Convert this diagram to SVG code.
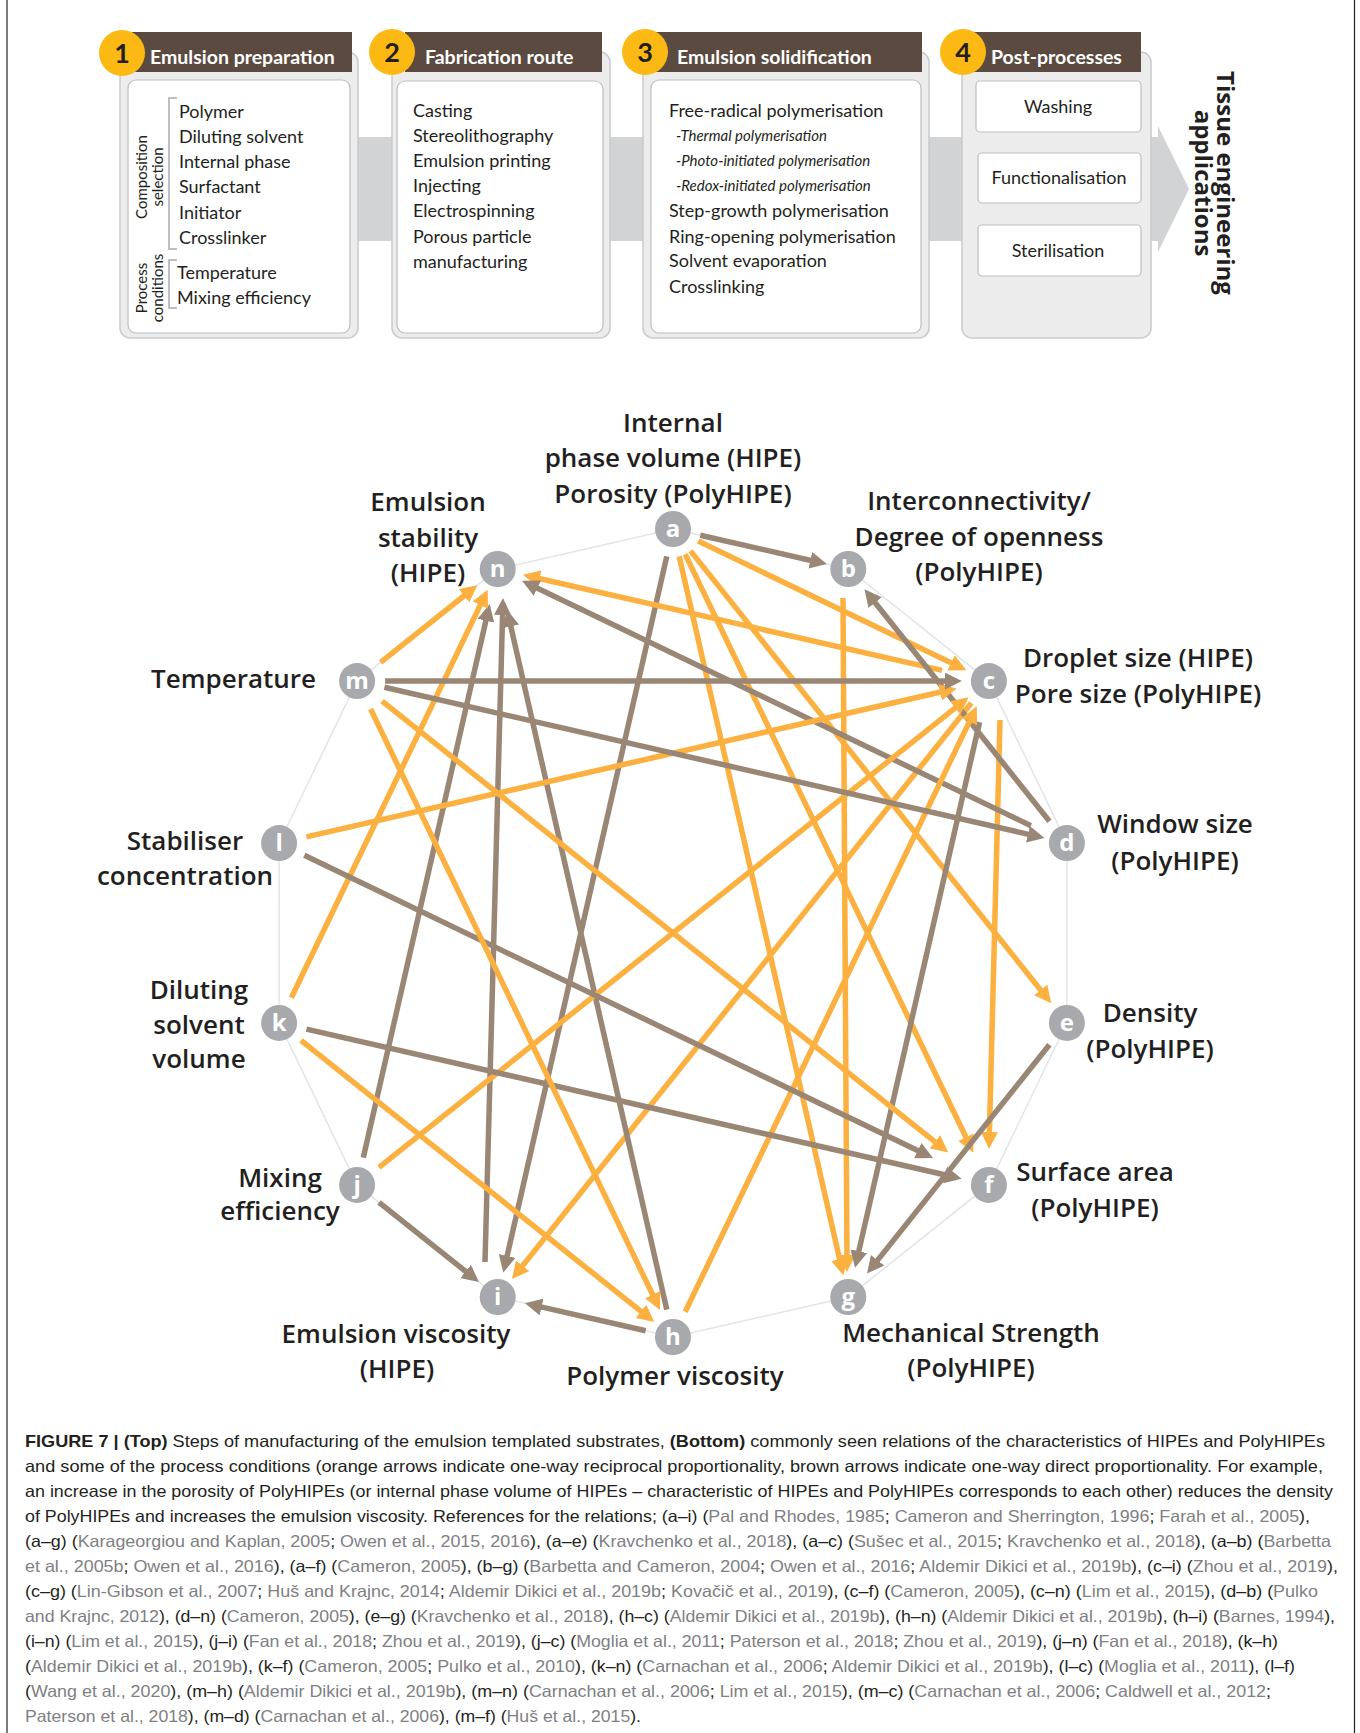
<svg xmlns="http://www.w3.org/2000/svg" width="1360" height="1733" viewBox="0 0 1360 1733">
<defs>
<style>
.box{font-family:Lato,"Open Sans",sans-serif;font-size:18px;fill:#231f20}
.it{font-family:Lato,"Open Sans",sans-serif;font-size:15px;font-style:italic;fill:#231f20}
.hd{font-family:Lato,"Open Sans",sans-serif;font-size:19.5px;font-weight:700;fill:#fff}
.num{font-family:Lato,"Open Sans",sans-serif;font-size:27px;font-weight:700;fill:#231f20;text-anchor:middle}
.vt{font-family:Lato,"Open Sans",sans-serif;font-size:15px;fill:#231f20;text-anchor:middle}
.outer{fill:#ececed;stroke:#c9cacc;stroke-width:1.5}
.inner{fill:#fff;stroke:#bcbec0;stroke-width:1.2}
.head{fill:#5b4a3f}
.ycirc{fill:#fdb913}
.brk{fill:none;stroke:#a7a9ac;stroke-width:1.5}
.lbl{font-family:"Open Sans","Noto Sans",sans-serif;font-size:26px;font-weight:600;fill:#231f20;text-anchor:middle}
.dot{fill:#a7a9ac}
.ltr{font-family:"Open Sans","Noto Sans",sans-serif;font-size:24px;font-weight:700;fill:#fff;text-anchor:middle}
.o{stroke:#fbb040;stroke-width:5.5;fill:none;marker-end:url(#ao)}
.b{stroke:#998675;stroke-width:5.5;fill:none;marker-end:url(#ab)}
.cap{font-family:"Liberation Sans Narrow","Liberation Sans",Arial,sans-serif;font-size:16.5px;fill:#231f20}
.cap .g{fill:#7f8083}
.cap .bd{font-weight:700}
</style>
<marker id="ao" viewBox="0 0 17 17" markerWidth="17" markerHeight="17" refX="8.5" refY="8.5" orient="auto" markerUnits="userSpaceOnUse"><path d="M0,0 L17,8.5 L0,17 z" fill="#fbb040"/></marker>
<marker id="ab" viewBox="0 0 17 17" markerWidth="17" markerHeight="17" refX="8.5" refY="8.5" orient="auto" markerUnits="userSpaceOnUse"><path d="M0,0 L17,8.5 L0,17 z" fill="#998675"/></marker>
</defs>
<rect width="1360" height="1733" fill="#fff"/>
<line x1="7" y1="0" x2="7" y2="1733" stroke="#231f20" stroke-width="1.2"/>
<line x1="1354.5" y1="0" x2="1354.5" y2="1733" stroke="#231f20" stroke-width="1.2"/>

<g id="process-band">
<rect x="300" y="137" width="860" height="104" fill="#d1d3d4"/>
<polygon points="1158,126 1189,189 1158,252" fill="#d1d3d4"/>
</g>

<g id="step1">
<rect class="outer" x="120" y="52" width="238" height="286" rx="10"/>
<rect class="head" x="132" y="32" width="220" height="40"/>
<rect class="inner" x="128" y="80" width="222" height="253" rx="8"/>
<circle class="ycirc" cx="122" cy="53" r="23"/>
<text class="num" x="122" y="63">1</text>
<text class="hd" x="150" y="64">Emulsion preparation</text>
<path class="brk" d="M177,98 H169 V249 H177"/>
<path class="brk" d="M177,260 H169 V308 H177"/>
<text class="vt" transform="translate(147,177) rotate(-90)"><tspan x="0" y="0">Composition</tspan><tspan x="0" y="16">selection</tspan></text>
<text class="vt" transform="translate(147,288) rotate(-90)"><tspan x="0" y="0">Process</tspan><tspan x="0" y="16">conditions</tspan></text>
<text class="box" x="179" y="118">Polymer</text>
<text class="box" x="179" y="143">Diluting solvent</text>
<text class="box" x="179" y="168">Internal phase</text>
<text class="box" x="179" y="193">Surfactant</text>
<text class="box" x="179" y="219">Initiator</text>
<text class="box" x="179" y="244">Crosslinker</text>
<text class="box" x="177" y="279">Temperature</text>
<text class="box" x="177" y="304">Mixing efficiency</text>
</g>

<g id="step2">
<rect class="outer" x="392" y="52" width="218" height="286" rx="10"/>
<rect class="head" x="405" y="32" width="197" height="40"/>
<rect class="inner" x="397" y="81" width="206" height="252" rx="8"/>
<circle class="ycirc" cx="392" cy="52" r="23"/>
<text class="num" x="392" y="62">2</text>
<text class="hd" x="425" y="64">Fabrication route</text>
<text class="box" x="413" y="117">Casting</text>
<text class="box" x="413" y="142">Stereolithography</text>
<text class="box" x="413" y="167">Emulsion printing</text>
<text class="box" x="413" y="192">Injecting</text>
<text class="box" x="413" y="217">Electrospinning</text>
<text class="box" x="413" y="243">Porous particle</text>
<text class="box" x="413" y="268">manufacturing</text>
</g>

<g id="step3">
<rect class="outer" x="643" y="52" width="286" height="286" rx="10"/>
<rect class="head" x="653" y="32" width="269" height="40"/>
<rect class="inner" x="651" y="80" width="270" height="253" rx="8"/>
<circle class="ycirc" cx="645" cy="52" r="23"/>
<text class="num" x="645" y="62">3</text>
<text class="hd" x="677" y="64">Emulsion solidification</text>
<text class="box" x="669" y="117">Free-radical polymerisation</text>
<text class="it" x="676" y="141">-Thermal polymerisation</text>
<text class="it" x="676" y="166">-Photo-initiated polymerisation</text>
<text class="it" x="676" y="191">-Redox-initiated polymerisation</text>
<text class="box" x="669" y="217">Step-growth polymerisation</text>
<text class="box" x="669" y="243">Ring-opening polymerisation</text>
<text class="box" x="669" y="267">Solvent evaporation</text>
<text class="box" x="669" y="293">Crosslinking</text>
</g>

<g id="step4">
<rect class="outer" x="962" y="52" width="189" height="286" rx="10"/>
<rect class="head" x="967" y="32" width="174" height="40"/>
<circle class="ycirc" cx="963" cy="52" r="23"/>
<text class="num" x="963" y="62">4</text>
<text class="hd" x="991" y="64">Post-processes</text>
<rect class="inner" x="976" y="81" width="165" height="51" rx="4"/>
<text class="box" x="1058" y="113" text-anchor="middle">Washing</text>
<rect class="inner" x="978" y="153" width="163" height="50" rx="4"/>
<text class="box" x="1059" y="184" text-anchor="middle">Functionalisation</text>
<rect class="inner" x="978" y="225" width="163" height="51" rx="4"/>
<text class="box" x="1058" y="257" text-anchor="middle">Sterilisation</text>
</g>

<g id="tissue-engineering">
<text transform="translate(1217,183) rotate(90)" font-family="'Open Sans','Noto Sans',sans-serif" font-size="24" font-weight="700" fill="#231f20" text-anchor="middle"><tspan x="0" y="0">Tissue engineering</tspan><tspan x="0" y="22">applications</tspan></text>
</g>

<polygon id="ring" points="673,529 848.3,569 988.9,681.1 1066.9,843.1 1066.9,1022.9 988.9,1184.9 848.3,1297 673,1337 497.7,1297 357.1,1184.9 279.1,1022.9 279.1,843.1 357.1,681.1 497.7,569" fill="none" stroke="#e3e4e5" stroke-width="1.5"/>

<g id="connectors">
<line class="b" x1="666.8" y1="556.3" x2="505.2" y2="1264.3"/>
<line class="o" x1="679.2" y1="556.3" x2="841.5" y2="1267.3"/>
<line class="o" x1="690.5" y1="550.9" x2="1046.0" y2="996.7"/>
<line class="o" x1="698.2" y1="541.1" x2="958.7" y2="666.6"/>
<line class="b" x1="700.3" y1="535.2" x2="818.6" y2="562.2"/>
<line class="o" x1="685.2" y1="554.2" x2="969.6" y2="1144.8"/>
<line class="o" x1="843" y1="598" x2="847" y2="1263.5"/>
<line class="o" x1="971.4" y1="703.0" x2="517.3" y2="1272.4"/>
<line class="b" x1="979.6" y1="722.1" x2="856.9" y2="1259.5"/>
<line class="o" x1="1000" y1="720" x2="989.2" y2="1140.5"/>
<line class="o" x1="942.1" y1="670.4" x2="531.3" y2="576.7"/>
<line class="b" x1="1049.4" y1="821.2" x2="869.8" y2="596.0"/>
<line class="b" x1="1030.9" y1="825.7" x2="529.7" y2="584.4"/>
<line class="b" x1="1049.4" y1="1044.8" x2="872.3" y2="1266.9"/>
<line class="o" x1="685.2" y1="1311.8" x2="973.1" y2="714.0"/>
<line class="b" x1="666.8" y1="1309.7" x2="508.9" y2="618.2"/>
<line class="b" x1="645.7" y1="1330.8" x2="533.3" y2="1305.1"/>
<line class="b" x1="485" y1="1262" x2="502.8" y2="606.5"/>
<line class="b" x1="379.0" y1="1202.4" x2="472.3" y2="1276.7"/>
<line class="o" x1="379.0" y1="1167.4" x2="961.9" y2="702.6"/>
<line class="b" x1="363.3" y1="1157.6" x2="487.8" y2="612.4"/>
<line class="o" x1="301.0" y1="1040.4" x2="647.6" y2="1316.7"/>
<line class="b" x1="306.4" y1="1029.1" x2="953.3" y2="1176.8"/>
<line class="o" x1="291.3" y1="997.7" x2="484.0" y2="597.4"/>
<line class="o" x1="306.4" y1="836.9" x2="948.4" y2="690.3"/>
<line class="b" x1="304.3" y1="855.2" x2="925.4" y2="1154.3"/>
<line class="o" x1="370.6" y1="709.0" x2="656.3" y2="1302.3"/>
<line class="o" x1="380.6" y1="662.4" x2="470.7" y2="590.5"/>
<line class="b" x1="385.1" y1="681.1" x2="953.4" y2="681.1"/>
<line class="b" x1="384.4" y1="687.3" x2="1036.2" y2="836.1"/>
<line class="o" x1="382.1" y1="701.1" x2="941.6" y2="1147.2"/>
</g>

<g id="node-a"><circle class="dot" cx="673" cy="529" r="18"/><text class="ltr" x="673" y="537">a</text>
<text class="lbl" x="673" y="432">Internal</text><text class="lbl" x="673" y="467">phase volume (HIPE)</text><text class="lbl" x="673" y="503">Porosity (PolyHIPE)</text></g>
<g id="node-b"><circle class="dot" cx="848.3" cy="569" r="18"/><text class="ltr" x="848.3" y="577">b</text>
<text class="lbl" x="979" y="510">Interconnectivity/</text><text class="lbl" x="979" y="546">Degree of openness</text><text class="lbl" x="979" y="581">(PolyHIPE)</text></g>
<g id="node-c"><circle class="dot" cx="988.9" cy="681.1" r="18"/><text class="ltr" x="988.9" y="689">c</text>
<text class="lbl" x="1138" y="667">Droplet size (HIPE)</text><text class="lbl" x="1138" y="703">Pore size (PolyHIPE)</text></g>
<g id="node-d"><circle class="dot" cx="1066.9" cy="843.1" r="18"/><text class="ltr" x="1066.9" y="851">d</text>
<text class="lbl" x="1175" y="833">Window size</text><text class="lbl" x="1175" y="870">(PolyHIPE)</text></g>
<g id="node-e"><circle class="dot" cx="1066.9" cy="1022.9" r="18"/><text class="ltr" x="1066.9" y="1031">e</text>
<text class="lbl" x="1150" y="1022">Density</text><text class="lbl" x="1150" y="1058">(PolyHIPE)</text></g>
<g id="node-f"><circle class="dot" cx="988.9" cy="1184.9" r="18"/><text class="ltr" x="988.9" y="1193">f</text>
<text class="lbl" x="1095" y="1181">Surface area</text><text class="lbl" x="1095" y="1217">(PolyHIPE)</text></g>
<g id="node-g"><circle class="dot" cx="848.3" cy="1297" r="18"/><text class="ltr" x="848.3" y="1305">g</text>
<text class="lbl" x="971" y="1342">Mechanical Strength</text><text class="lbl" x="971" y="1377">(PolyHIPE)</text></g>
<g id="node-h"><circle class="dot" cx="673" cy="1337" r="18"/><text class="ltr" x="673" y="1345">h</text>
<text class="lbl" x="675" y="1385">Polymer viscosity</text></g>
<g id="node-i"><circle class="dot" cx="497.7" cy="1297" r="18"/><text class="ltr" x="497.7" y="1305">i</text>
<text class="lbl" x="396" y="1343">Emulsion viscosity</text><text class="lbl" x="397" y="1378">(HIPE)</text></g>
<g id="node-j"><circle class="dot" cx="357.1" cy="1184.9" r="18"/><text class="ltr" x="357.1" y="1193">j</text>
<text class="lbl" x="280" y="1187">Mixing</text><text class="lbl" x="280" y="1220">efficiency</text></g>
<g id="node-k"><circle class="dot" cx="279.1" cy="1022.9" r="18"/><text class="ltr" x="279.1" y="1031">k</text>
<text class="lbl" x="199" y="999">Diluting</text><text class="lbl" x="199" y="1034">solvent</text><text class="lbl" x="199" y="1068">volume</text></g>
<g id="node-l"><circle class="dot" cx="279.1" cy="843.1" r="18"/><text class="ltr" x="279.1" y="851">l</text>
<text class="lbl" x="185" y="850">Stabiliser</text><text class="lbl" x="185" y="885">concentration</text></g>
<g id="node-m"><circle class="dot" cx="357.1" cy="681.1" r="18"/><text class="ltr" x="357.1" y="689">m</text>
<text class="lbl" x="316" y="688" style="text-anchor:end">Temperature</text></g>
<g id="node-n"><circle class="dot" cx="497.7" cy="569" r="18"/><text class="ltr" x="497.7" y="577">n</text>
<text class="lbl" x="428" y="511">Emulsion</text><text class="lbl" x="428" y="547">stability</text><text class="lbl" x="428" y="582">(HIPE)</text></g>

<g id="caption" class="cap">
<text x="25" y="1447" textLength="1300" lengthAdjust="spacingAndGlyphs"><tspan class="bd">FIGURE 7 | (Top)</tspan> Steps of manufacturing of the emulsion templated substrates, <tspan class="bd">(Bottom)</tspan> commonly seen relations of the characteristics of HIPEs and PolyHIPEs</text>
<text x="25" y="1472" textLength="1298" lengthAdjust="spacingAndGlyphs">and some of the process conditions (orange arrows indicate one-way reciprocal proportionality, brown arrows indicate one-way direct proportionality. For example,</text>
<text x="25" y="1497" textLength="1308" lengthAdjust="spacingAndGlyphs">an increase in the porosity of PolyHIPEs (or internal phase volume of HIPEs – characteristic of HIPEs and PolyHIPEs corresponds to each other) reduces the density</text>
<text x="25" y="1522" textLength="1285" lengthAdjust="spacingAndGlyphs">of PolyHIPEs and increases the emulsion viscosity. References for the relations; (a–i) (<tspan class="g">Pal and Rhodes, 1985</tspan>; <tspan class="g">Cameron and Sherrington, 1996</tspan>; <tspan class="g">Farah et al., 2005</tspan>),</text>
<text x="25" y="1547" textLength="1306" lengthAdjust="spacingAndGlyphs">(a–g) (<tspan class="g">Karageorgiou and Kaplan, 2005</tspan>; <tspan class="g">Owen et al., 2015, 2016</tspan>), (a–e) (<tspan class="g">Kravchenko et al., 2018</tspan>), (a–c) (<tspan class="g">Sušec et al., 2015</tspan>; <tspan class="g">Kravchenko et al., 2018</tspan>), (a–b) (<tspan class="g">Barbetta</tspan></text>
<text x="25" y="1572" textLength="1313" lengthAdjust="spacingAndGlyphs"><tspan class="g">et al., 2005b</tspan>; <tspan class="g">Owen et al., 2016</tspan>), (a–f) (<tspan class="g">Cameron, 2005</tspan>), (b–g) (<tspan class="g">Barbetta and Cameron, 2004</tspan>; <tspan class="g">Owen et al., 2016</tspan>; <tspan class="g">Aldemir Dikici et al., 2019b</tspan>), (c–i) (<tspan class="g">Zhou et al., 2019</tspan>),</text>
<text x="25" y="1597" textLength="1293" lengthAdjust="spacingAndGlyphs">(c–g) (<tspan class="g">Lin-Gibson et al., 2007</tspan>; <tspan class="g">Huš and Krajnc, 2014</tspan>; <tspan class="g">Aldemir Dikici et al., 2019b</tspan>; <tspan class="g">Kovačič et al., 2019</tspan>), (c–f) (<tspan class="g">Cameron, 2005</tspan>), (c–n) (<tspan class="g">Lim et al., 2015</tspan>), (d–b) (<tspan class="g">Pulko</tspan></text>
<text x="25" y="1622" textLength="1310" lengthAdjust="spacingAndGlyphs"><tspan class="g">and Krajnc, 2012</tspan>), (d–n) (<tspan class="g">Cameron, 2005</tspan>), (e–g) (<tspan class="g">Kravchenko et al., 2018</tspan>), (h–c) (<tspan class="g">Aldemir Dikici et al., 2019b</tspan>), (h–n) (<tspan class="g">Aldemir Dikici et al., 2019b</tspan>), (h–i) (<tspan class="g">Barnes, 1994</tspan>),</text>
<text x="25" y="1647" textLength="1253" lengthAdjust="spacingAndGlyphs">(i–n) (<tspan class="g">Lim et al., 2015</tspan>), (j–i) (<tspan class="g">Fan et al., 2018</tspan>; <tspan class="g">Zhou et al., 2019</tspan>), (j–c) (<tspan class="g">Moglia et al., 2011</tspan>; <tspan class="g">Paterson et al., 2018</tspan>; <tspan class="g">Zhou et al., 2019</tspan>), (j–n) (<tspan class="g">Fan et al., 2018</tspan>), (k–h)</text>
<text x="25" y="1672" textLength="1270" lengthAdjust="spacingAndGlyphs">(<tspan class="g">Aldemir Dikici et al., 2019b</tspan>), (k–f) (<tspan class="g">Cameron, 2005</tspan>; <tspan class="g">Pulko et al., 2010</tspan>), (k–n) (<tspan class="g">Carnachan et al., 2006</tspan>; <tspan class="g">Aldemir Dikici et al., 2019b</tspan>), (l–c) (<tspan class="g">Moglia et al., 2011</tspan>), (l–f)</text>
<text x="25" y="1697" textLength="1246" lengthAdjust="spacingAndGlyphs">(<tspan class="g">Wang et al., 2020</tspan>), (m–h) (<tspan class="g">Aldemir Dikici et al., 2019b</tspan>), (m–n) (<tspan class="g">Carnachan et al., 2006</tspan>; <tspan class="g">Lim et al., 2015</tspan>), (m–c) (<tspan class="g">Carnachan et al., 2006</tspan>; <tspan class="g">Caldwell et al., 2012</tspan>;</text>
<text x="25" y="1722" textLength="616" lengthAdjust="spacingAndGlyphs"><tspan class="g">Paterson et al., 2018</tspan>), (m–d) (<tspan class="g">Carnachan et al., 2006</tspan>), (m–f) (<tspan class="g">Huš et al., 2015</tspan>).</text>
</g>
</svg>
